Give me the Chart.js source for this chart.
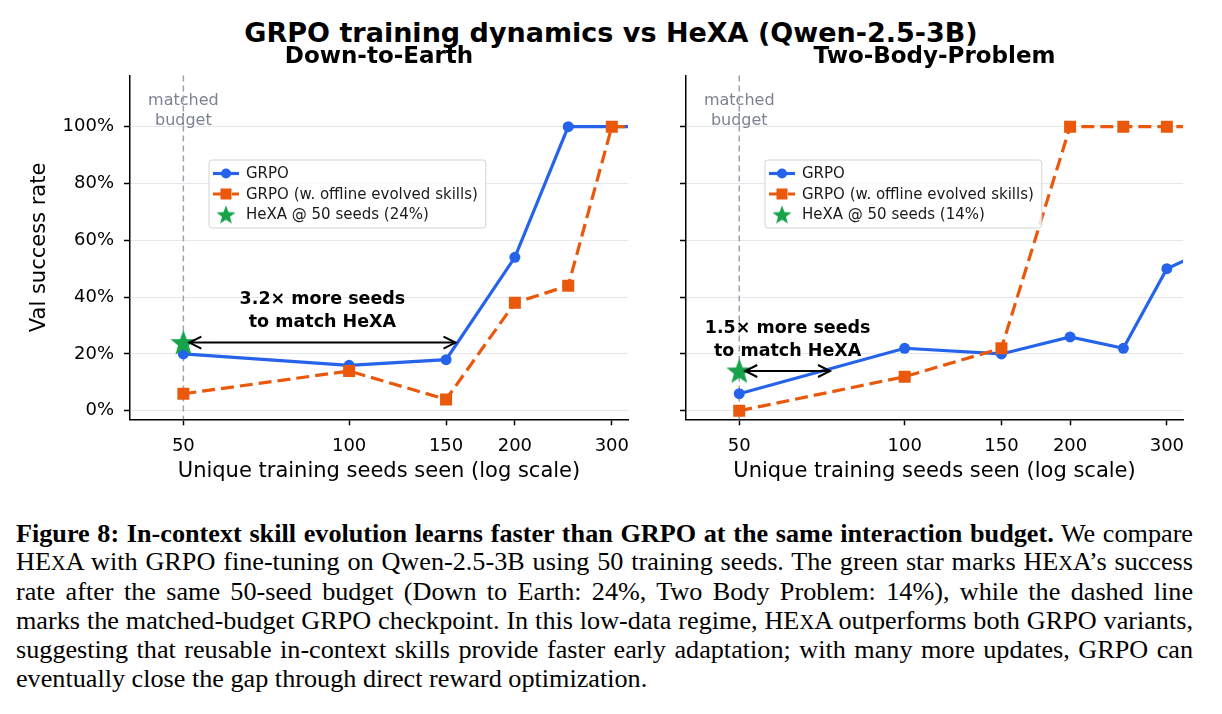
<!DOCTYPE html>
<html lang="en">
<head>
<meta charset="UTF-8">
<title>GRPO training dynamics vs HeXA</title>
<script src="https://cdn.jsdelivr.net/npm/chart.js"></script>
<style>
  body {
    margin: 0;
    background: #fff;
    width: 1222px;
    height: 714px;
    position: relative;
    overflow: hidden;
    font-family: 'DejaVu Sans', sans-serif;
  }
  #suptitle {
    position: absolute;
    left: 0; top: 17.5px;
    width: 1222px;
    text-align: center;
    font-weight: bold;
    font-size: 27px;
    line-height: 30px;
    color: #000;
  }
  .panel { position: absolute; top: 0; height: 500px; }
  #caption {
    position: absolute;
    left: 16px; top: 519.6px;
    width: 1177px;
    font-family: 'Liberation Serif', 'Times New Roman', serif;
    font-size: 26.2px;
    line-height: 28.7px;
    word-spacing: -2.5px;
    color: #000;
  }
  #caption div { text-align: justify; text-align-last: justify; }
  #caption div:last-child { text-align-last: left; word-spacing: 0; }
  .sc { font-size: 0.78em; }
</style>
</head>
<body>
<div id="suptitle">GRPO training dynamics vs HeXA (Qwen-2.5-3B)</div>
<div class="panel" style="left:0; width:650px;"><canvas id="dteChart" width="650" height="500"></canvas></div>
<div class="panel" style="left:650px; width:572px;"><canvas id="tbpChart" width="572" height="500"></canvas></div>

<div id="caption">
  <div><b>Figure 8: In-context skill evolution learns faster than GRPO at the same interaction budget.</b> We compare</div>
  <div>HE<span class="sc">X</span>A with GRPO fine-tuning on Qwen-2.5-3B using 50 training seeds. The green star marks HE<span class="sc">X</span>A’s success</div>
  <div>rate after the same 50-seed budget (Down to Earth: 24%, Two Body Problem: 14%), while the dashed line</div>
  <div>marks the matched-budget GRPO checkpoint. In this low-data regime, HE<span class="sc">X</span>A outperforms both GRPO variants,</div>
  <div>suggesting that reusable in-context skills provide faster early adaptation; with many more updates, GRPO can</div>
  <div>eventually close the gap through direct reward optimization.</div>
</div>

<script>
// --- data ---
const seeds = [50, 100, 150, 200, 250, 300, 350];
const xTicks = [50, 100, 150, 200, 300];
const yTicks = [0, 20, 40, 60, 80, 100];

const dteGrpo = [20, 16, 18, 54, 100, 100, 100];
const dteOffline = [6, 14, 4, 38, 44, 100, 100];
const tbpGrpo = [6, 22, 20, 26, 22, 50, 56];
const tbpOffline = [0, 12, 22, 100, 100, 100, 100];

const panelTitles = ['Down-to-Earth', 'Two-Body-Problem'];
const hexaScore = [24, 14];       // HeXA @ 50 seeds
const matchSeeds = [160, 75];     // where GRPO catches up
const matchLabels = ['3.2× more seeds', '1.5× more seeds'];
const budgetSeeds = 50;

const BLUE = '#2563eb';
const ORANGE = '#ea580c';
const GREEN = '#16a34a';
const FONT = "'DejaVu Sans', sans-serif";

function makeStar(r) {
    const s = Math.ceil(r * 2 + 2);
    const c = document.createElement('canvas');
    c.width = s; c.height = s;
    const g = c.getContext('2d');
    g.fillStyle = GREEN;
    g.beginPath();
    for (let i = 0; i < 10; i++) {
        const a = -Math.PI / 2 + i * Math.PI / 5;
        const rr = i % 2 ? r * 0.42 : r;
        g.lineTo(s / 2 + rr * Math.cos(a), s / 2 + 1 + rr * Math.sin(a));
    }
    g.closePath();
    g.fill();
    return c;
}
const starBig = makeStar(13.5);
const starSmall = makeStar(10);

function drawArrowHead(ctx, x, y, dir) {
    ctx.beginPath();
    ctx.moveTo(x + dir * 12, y - 6);
    ctx.lineTo(x, y);
    ctx.lineTo(x + dir * 12, y + 6);
    ctx.stroke();
}

// matched budget line, annotation, legend and panel title
const panelDecor = {
    id: 'panelDecor',
    beforeDatasetsDraw(chart, args, opts) {
        const {ctx, chartArea: a, scales: {x}} = chart;
        const px = x.getPixelForValue(budgetSeeds);
        ctx.save();
        ctx.fillStyle = '#7b8291';
        ctx.font = '16px ' + FONT;
        ctx.textAlign = 'center';
        ctx.textBaseline = 'middle';
        ctx.fillText('matched', px, a.top + 25);
        ctx.fillText('budget', px, a.top + 45);
        ctx.strokeStyle = '#9ca3af';
        ctx.lineWidth = 1.5;
        ctx.setLineDash([6, 4]);
        ctx.beginPath();
        ctx.moveTo(px, a.top);
        ctx.lineTo(px, a.bottom);
        ctx.stroke();
        ctx.restore();
    },
    afterDatasetsDraw(chart, args, opts) {
        const {ctx, chartArea: a, scales: {x, y}} = chart;
        const k = opts.panel;

        // double arrow from HeXA star to GRPO catch-up point
        const x1 = x.getPixelForValue(budgetSeeds) + 6;
        const x2 = x.getPixelForValue(matchSeeds[k]) - 6;
        const py = y.getPixelForValue(hexaScore[k]);
        ctx.save();
        ctx.strokeStyle = '#000';
        ctx.lineWidth = 2;
        ctx.beginPath();
        ctx.moveTo(x1, py);
        ctx.lineTo(x2, py);
        ctx.stroke();
        drawArrowHead(ctx, x1, py, 1);
        drawArrowHead(ctx, x2, py, -1);

        const tx = x.getPixelForValue(Math.sqrt(budgetSeeds * matchSeeds[k]));
        const ty = y.getPixelForValue(hexaScore[k] + 11);
        ctx.fillStyle = '#000';
        ctx.font = 'bold 17.5px ' + FONT;
        ctx.textAlign = 'center';
        ctx.textBaseline = 'middle';
        ctx.fillText(matchLabels[k], tx, ty - 11.5);
        ctx.fillText('to match HeXA', tx, ty + 11.5);

        // legend
        ctx.font = '15px ' + FONT;
        const sets = chart.data.datasets;
        const tw = Math.max(...sets.map(d => ctx.measureText(d.label).width));
        const bx = a.left + 79, by = a.top + 84.5, bw = tw + 45, bh = 68;
        ctx.beginPath();
        ctx.roundRect(bx, by, bw, bh, 3);
        ctx.fillStyle = 'rgba(255,255,255,0.8)';
        ctx.fill();
        ctx.strokeStyle = '#d4d4d4';
        ctx.lineWidth = 1;
        ctx.stroke();
        sets.forEach((d, i) => {
            const cy = by + 13.5 + i * 20.5;
            const hx = bx + 17;
            if (d.showLine !== false) {
                ctx.strokeStyle = d.borderColor;
                ctx.lineWidth = d.borderWidth;
                ctx.setLineDash(d.borderDash || []);
                ctx.beginPath();
                ctx.moveTo(bx + 4, cy);
                ctx.lineTo(bx + 30, cy);
                ctx.stroke();
                ctx.setLineDash([]);
            }
            ctx.fillStyle = d.backgroundColor;
            if (d.pointStyle === 'circle') {
                ctx.beginPath();
                ctx.arc(hx, cy, 5, 0, Math.PI * 2);
                ctx.fill();
            } else if (d.pointStyle === 'rect') {
                ctx.fillRect(hx - 5.5, cy - 5.5, 11, 11);
            } else {
                ctx.drawImage(starSmall, hx - starSmall.width / 2, cy - starSmall.height / 2);
            }
            ctx.fillStyle = '#1a1a1a';
            ctx.textAlign = 'left';
            ctx.fillText(d.label, bx + 37, cy + 1);
        });

        // panel title
        ctx.fillStyle = '#000';
        ctx.font = 'bold 23px ' + FONT;
        ctx.textAlign = 'center';
        ctx.textBaseline = 'alphabetic';
        ctx.fillText(panelTitles[k], (a.left + a.right) / 2, a.top - 12.5);
        ctx.restore();
    }
};

function panelDatasets(grpo, offline, hexa) {
    return [
        {
            label: 'GRPO',
            data: seeds.map((s, i) => ({x: s, y: grpo[i]})),
            borderColor: BLUE,
            backgroundColor: BLUE,
            borderWidth: 3.2,
            pointStyle: 'circle',
            pointRadius: 5.5,
            pointBorderWidth: 0,
            order: 3
        },
        {
            label: 'GRPO (w. offline evolved skills)',
            data: seeds.map((s, i) => ({x: s, y: offline[i]})),
            borderColor: ORANGE,
            backgroundColor: ORANGE,
            borderWidth: 3.2,
            borderDash: [13, 6],
            pointStyle: 'rect',
            pointRadius: 8.5,
            pointBorderWidth: 0,
            order: 2
        },
        {
            label: 'HeXA @ 50 seeds (' + hexa + '%)',
            data: [{x: budgetSeeds, y: hexa}],
            backgroundColor: GREEN,
            borderColor: GREEN,
            showLine: false,
            pointStyle: starBig,
            pointRadius: 13,
            order: 1
        }
    ];
}

function renderPanel(canvasId, k, grpo, offline) {
    const first = k === 0;
    new Chart(document.getElementById(canvasId), {
        type: 'line',
        data: { datasets: panelDatasets(grpo, offline, hexaScore[k]) },
        options: {
            responsive: false,
            animation: false,
            events: [],
            layout: { padding: { left: 0, right: first ? 22 : 39, top: 75.5, bottom: 0 } },
            plugins: {
                legend: { display: false },
                tooltip: { enabled: false },
                title: { display: false },
                panelDecor: { panel: k }
            },
            scales: {
                x: {
                    type: 'logarithmic',
                    min: 40,
                    max: 321,
                    afterBuildTicks: s => { s.ticks = xTicks.map(v => ({value: v})); },
                    afterFit: s => { s.height = 80.7; },
                    grid: { drawOnChartArea: false, tickLength: 6, tickColor: '#000', tickWidth: 1.5 },
                    border: { color: '#000', width: 1.5 },
                    ticks: {
                        callback: v => String(v),
                        color: '#000',
                        font: { family: FONT, size: 18 },
                        padding: 10,
                        maxRotation: 0,
                        autoSkip: false
                    },
                    title: {
                        display: true,
                        text: 'Unique training seeds seen (log scale)',
                        color: '#000',
                        font: { family: FONT, size: 21 },
                        padding: { top: 0, bottom: 15.4 }
                    }
                },
                y: {
                    min: -3,
                    max: 118,
                    afterBuildTicks: s => { s.ticks = yTicks.map(v => ({value: v})); },
                    afterFit: s => { s.width = first ? 130 : 36; },
                    grid: { color: '#e5e7eb', lineWidth: 1, tickLength: 6, tickColor: '#000', tickWidth: 1.5 },
                    border: { color: '#000', width: 1.5 },
                    ticks: {
                        display: first,
                        callback: v => v + '%',
                        color: '#000',
                        font: { family: FONT, size: 18 },
                        padding: 10
                    },
                    title: {
                        display: first,
                        text: 'Val success rate',
                        color: '#000',
                        font: { family: FONT, size: 21 },
                        padding: { top: 27.4, bottom: 0 }
                    }
                }
            }
        },
        plugins: [panelDecor]
    });
}

renderPanel('dteChart', 0, dteGrpo, dteOffline);
renderPanel('tbpChart', 1, tbpGrpo, tbpOffline);
</script>
</body>
</html>
